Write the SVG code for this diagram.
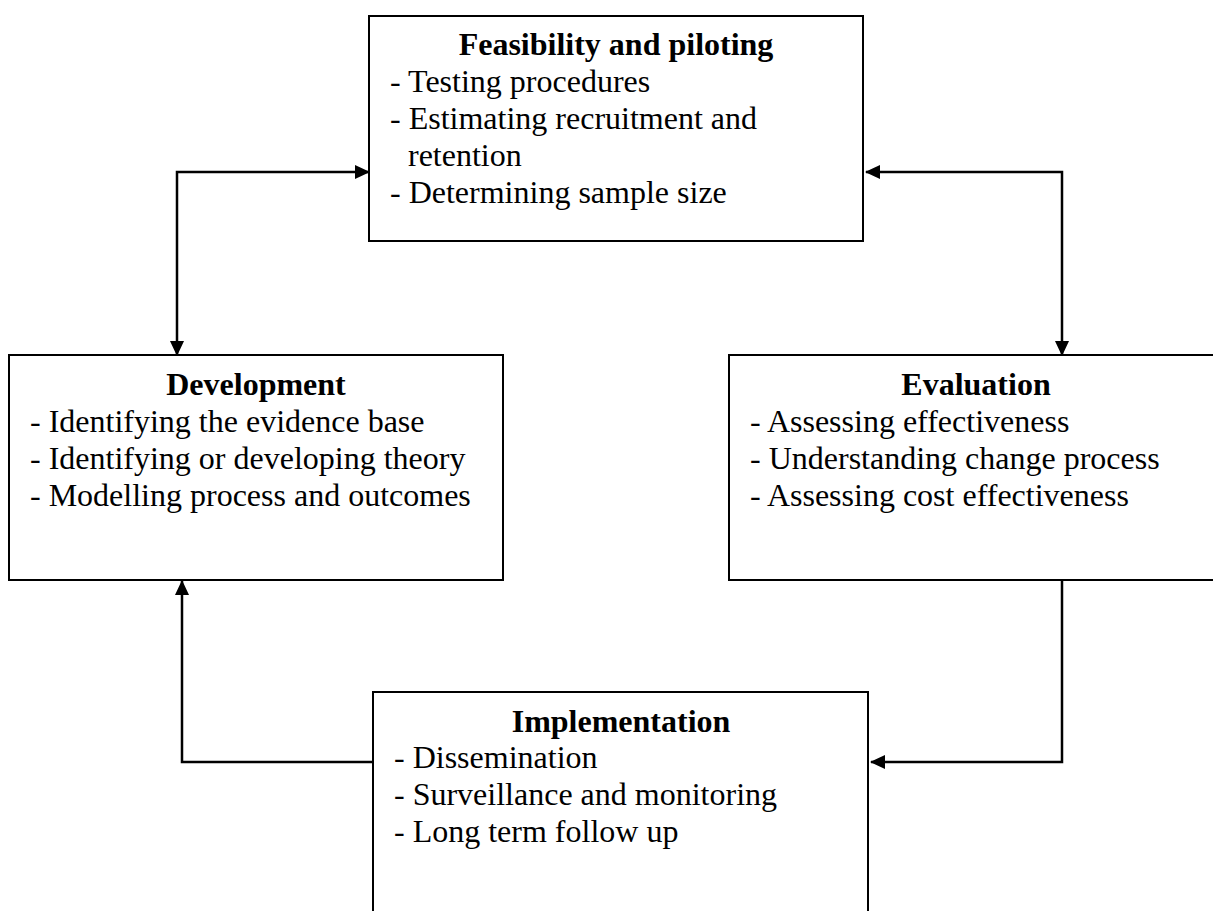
<svg xmlns="http://www.w3.org/2000/svg" width="1213" height="911" viewBox="0 0 1213 911">
<style>
.box{fill:#fff;stroke:#000;stroke-width:2}
.t{font-family:"Liberation Serif","Times New Roman",serif;font-size:32px;fill:#000}
.h{font-weight:bold;text-anchor:middle}
.c{fill:none;stroke:#000;stroke-width:2.5}
</style>
<defs>
<marker id="ah" markerUnits="userSpaceOnUse" markerWidth="15" markerHeight="14" refX="14" refY="7" orient="auto-start-reverse">
<path d="M0,0 L15,7 L0,14 z" fill="#000"/>
</marker>
</defs>
<rect width="1213" height="911" fill="#fff"/>
<g id="feasibility">
<rect class="box" x="369" y="16" width="494" height="225"/>
<text class="t h" x="616" y="55">Feasibility and piloting</text>
<text class="t" x="390" y="92">- Testing procedures</text>
<text class="t" x="390" y="129">- Estimating recruitment and</text>
<text class="t" x="408" y="166">retention</text>
<text class="t" x="390" y="203">- Determining sample size</text>
</g>
<g id="development">
<rect class="box" x="9" y="355" width="494" height="225"/>
<text class="t h" x="256" y="395">Development</text>
<text class="t" x="30" y="432">- Identifying the evidence base</text>
<text class="t" x="30" y="469">- Identifying or developing theory</text>
<text class="t" x="30" y="506">- Modelling process and outcomes</text>
</g>
<g id="evaluation">
<rect class="box" x="729" y="355" width="494" height="225"/>
<text class="t h" x="976" y="395">Evaluation</text>
<text class="t" x="750" y="432">- Assessing effectiveness</text>
<text class="t" x="750" y="469">- Understanding change process</text>
<text class="t" x="750" y="506">- Assessing cost effectiveness</text>
</g>
<g id="implementation">
<rect class="box" x="373" y="692" width="495" height="240"/>
<text class="t h" x="621" y="732">Implementation</text>
<text class="t" x="394" y="768">- Dissemination</text>
<text class="t" x="394" y="805">- Surveillance and monitoring</text>
<text class="t" x="394" y="842">- Long term follow up</text>
</g>
<g id="connectors">
<path class="c" d="M177 355 V172 H369" marker-start="url(#ah)" marker-end="url(#ah)"/>
<path class="c" d="M866 172 H1062 V355" marker-start="url(#ah)" marker-end="url(#ah)"/>
<path class="c" d="M373 762 H182 V581" marker-end="url(#ah)"/>
<path class="c" d="M1062 581 V762 H871" marker-end="url(#ah)"/>
</g>
</svg>
